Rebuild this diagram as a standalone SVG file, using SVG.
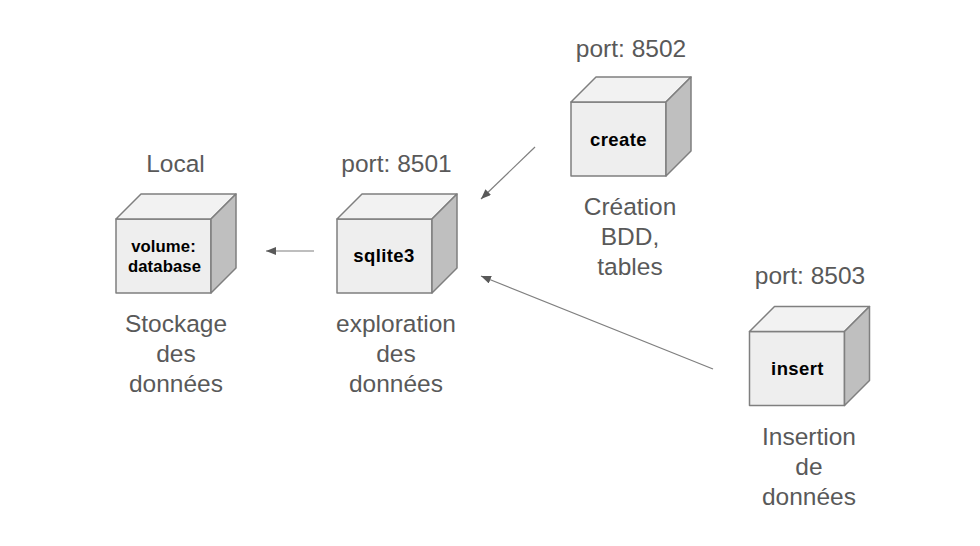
<svg xmlns="http://www.w3.org/2000/svg" width="980" height="546" viewBox="0 0 980 546">
<style>
text{font-family:"Liberation Sans",Arial,sans-serif}
.l{font-size:24.5px;fill:#595959;text-anchor:middle}
.b{font-size:18.5px;font-weight:bold;fill:#000;text-anchor:middle;letter-spacing:.4px}
.v{font-size:16.7px;letter-spacing:.1px}
.e{fill:#eeeeee;stroke:#7f7f7f;stroke-width:1.5;stroke-linejoin:round}
.t{fill:#f2f2f2;stroke:#7f7f7f;stroke-width:1.5;stroke-linejoin:round}
.s{fill:#bfbfbf;stroke:#7f7f7f;stroke-width:1.5;stroke-linejoin:round}
.c{fill:none;stroke:#7f7f7f;stroke-width:1.2;marker-end:url(#a)}
</style>
<defs>
<marker id="a" markerUnits="userSpaceOnUse" markerWidth="11" markerHeight="9" refX="10" refY="4" orient="auto">
<path d="M0 0L10 4L0 8Z" fill="#595959"/>
</marker>
<g id="cube">
<path class="e" d="M0 0H95V74H0Z"/>
<path class="t" d="M0 0L25 -25H120L95 0Z"/>
<path class="s" d="M95 0L120 -25V49L95 74Z"/>
</g>
</defs>
<rect width="980" height="546" fill="#ffffff"/>
<g id="connectors">
<path class="c" d="M314 251H266"/>
<path class="c" d="M535 147L481 199"/>
<path class="c" d="M713 369L481 276"/>
</g>
<g id="node-local">
<use href="#cube" x="116" y="219"/>
<text class="l" x="175.500" y="172">Local</text>
<text class="b v" x="163.500" y="252">volume:</text>
<text class="b v" x="164.500" y="272">database</text>
<text class="l" x="176" y="332">Stockage</text>
<text class="l" x="176" y="362">des</text>
<text class="l" x="176" y="392">données</text>
</g>
<g id="node-sqlite3">
<use href="#cube" x="337" y="219"/>
<text class="l" x="396.500" y="172">port: 8501</text>
<text class="b" x="384" y="262">sqlite3</text>
<text class="l" x="396" y="332">exploration</text>
<text class="l" x="396" y="362">des</text>
<text class="l" x="396" y="392">données</text>
</g>
<g id="node-create">
<use href="#cube" x="571" y="102"/>
<text class="l" x="631" y="57">port: 8502</text>
<text class="b" x="618.500" y="146">create</text>
<text class="l" x="630" y="215">Création</text>
<text class="l" x="630" y="245">BDD,</text>
<text class="l" x="630" y="275">tables</text>
</g>
<g id="node-insert">
<use href="#cube" x="749.500" y="331.500"/>
<text class="l" x="810" y="284">port: 8503</text>
<text class="b" x="797.500" y="375">insert</text>
<text class="l" x="809" y="445">Insertion</text>
<text class="l" x="809" y="475">de</text>
<text class="l" x="809" y="505">données</text>
</g>
</svg>
